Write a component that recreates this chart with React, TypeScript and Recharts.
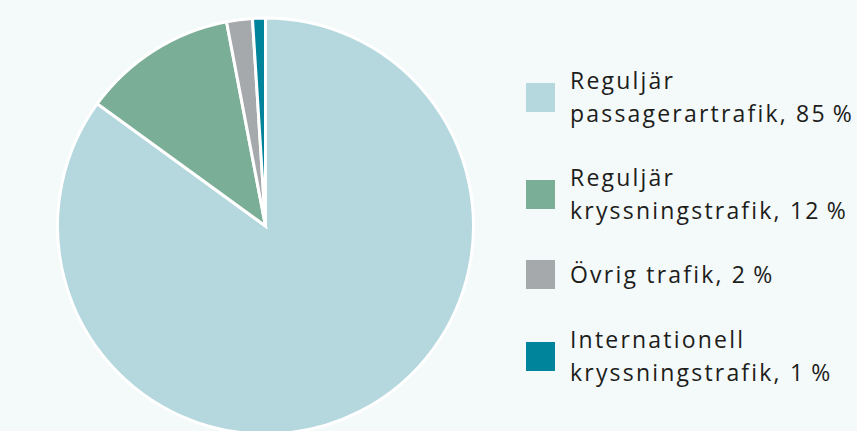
import { Cell, Legend, Pie, PieChart } from "recharts";

const categories = [
  ["Reguljär", "passagerartrafik, 85\u2009%"],
  ["Reguljär", "kryssningstrafik, 12\u2009%"],
  ["Övrig trafik, 2\u2009%"],
  ["Internationell", "kryssningstrafik, 1\u2009%"]
];
const shares = [85, 12, 2, 1];
const colors = ["#b4d8de", "#7bae96", "#a6a9ab", "#00849b"];

const data = shares.map((value, i) => ({ name: categories[i].join(" "), value }));

const legendTops = [64, 161, 258, 323];

function LegendBox() {
  return (
    <div style={{ position: "relative", width: 330, height: 431 }}>
      {categories.map((lines, i) => (
        <div key={i} style={{ position: "absolute", left: 0, top: legendTops[i], display: "flex", alignItems: "center" }}>
          <div style={{ width: 29, height: 29, background: colors[i], marginRight: 15, flexShrink: 0 }} />
          <div
            style={{
              fontFamily: "'Open Sans', sans-serif",
              fontSize: 23,
              letterSpacing: 2.2,
              lineHeight: "33px",
              color: "#1d1d1b",
              fontVariantLigatures: "none"
            }}
          >
            {lines.map((l, j) => (
              <div key={j} style={{ whiteSpace: "nowrap" }}>{l}</div>
            ))}
          </div>
        </div>
      ))}
    </div>
  );
}

export default function App() {
  return (
    <div style={{ position: "absolute", left: 0, top: 0, width: 857, height: 431, background: "#f4f9f9", overflow: "hidden" }}>
      <PieChart width={857} height={431} margin={{ top: 0, right: 0, bottom: 0, left: 0 }}>
        <Pie
          data={data}
          dataKey="value"
          nameKey="name"
          cx={265.5}
          cy={226}
          outerRadius={208}
          startAngle={90}
          endAngle={-270}
          stroke="#ffffff"
          strokeWidth={3}
          isAnimationActive={false}
        >
          {data.map((d, i) => (
            <Cell key={d.name} fill={colors[i]} />
          ))}
        </Pie>
        <Legend
          content={() => <LegendBox />}
          wrapperStyle={{ left: 526, top: 0, width: 330, height: 431 }}
        />
      </PieChart>
    </div>
  );
}
